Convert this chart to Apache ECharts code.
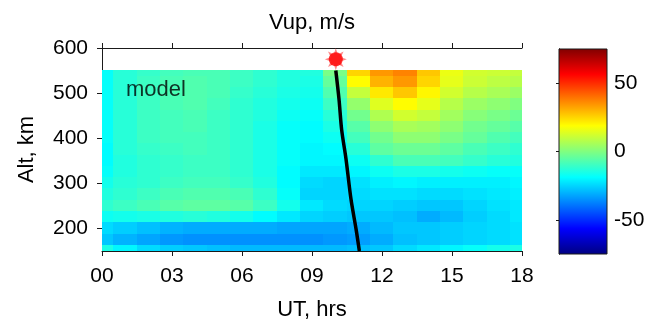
<!DOCTYPE html>
<html>
<head>
<meta charset="utf-8">
<script src="https://cdn.jsdelivr.net/npm/echarts@6/dist/echarts.min.js"></script>
<style>html,body{margin:0;padding:0;background:#fff;}#c{width:650px;height:326px;}</style>
</head>
<body>
<div id="c"></div>
<script>
// ---- data ----
const hours = [0,1,2,3,4,5,6,7,8,9,10,11,12,13,14,15,16,17,18];
const altitudes = [550,525,500,475,450,425,400,375,350,325,300,275,250,225,200,175,150];
const vup = [
  [-18,-13,-11,-9,-8,-8,-10,-12,-14,-14,-1,25,34,37,27,16,12,11,10],
  [-18,-13,-10,-8,-7,-8,-10,-12,-14,-15,-4,19,30,34,25,15,11,9,8],
  [-18,-13,-10,-8,-7,-8,-11,-13,-15,-16,-7,10,22,27,20,12,8,6,4],
  [-18,-13,-10,-8,-7,-9,-12,-14,-16,-17,-10,3,14,19,15,8,4,2,0],
  [-18,-13,-10,-9,-8,-10,-12,-14,-17,-18,-13,-2,7,12,10,5,1,-1,-3],
  [-18,-13,-10,-9,-8,-10,-12,-15,-18,-19,-15,-6,2,6,5,2,-2,-4,-6],
  [-18,-13,-10,-9,-9,-10,-12,-15,-18,-19,-17,-9,-2,2,2,-1,-4,-7,-9],
  [-19,-13,-11,-10,-9,-10,-12,-15,-18,-20,-19,-13,-5,-3,-3,-5,-8,-10,-12],
  [-19,-14,-12,-11,-10,-10,-12,-15,-18,-20,-20,-17,-12,-8,-8,-9,-11,-13,-14],
  [-18,-14,-12,-11,-10,-10,-12,-15,-19,-22,-22,-20,-17,-15,-15,-16,-17,-18,-18],
  [-16,-13,-12,-10,-9,-9,-11,-14,-19,-24,-25,-23,-21,-20,-21,-21,-21,-21,-20],
  [-14,-12,-10,-8,-7,-7,-8,-12,-18,-25,-25,-24,-23,-23,-24,-24,-23,-22,-21],
  [-12,-10,-8,-6,-5,-5,-6,-10,-16,-22,-24,-25,-25,-26,-27,-27,-25,-23,-22],
  [-17,-16,-15,-14,-13,-14,-16,-19,-22,-25,-26,-27,-27,-28,-31,-29,-26,-24,-22],
  [-24,-26,-28,-30,-31,-31,-31,-31,-32,-32,-32,-31,-29,-27,-27,-26,-25,-24,-23],
  [-27,-30,-32,-34,-35,-35,-35,-35,-35,-35,-34,-33,-31,-28,-27,-26,-25,-24,-23],
  [-15,-20,-24,-26,-27,-28,-29,-29,-29,-29,-29,-28,-27,-24,-22,-20,-18,-16,-15]
];
const trackUT = [10.02,10.16,10.27,10.46,10.67,10.89,11.03];
const trackAlt = [550,485,419,353,265,198,150];
const markerUT = [10.02];
const markerAlt = [575];
const xTicks = [0,3,6,9,12,15,18];
const yTicks = [200,300,400,500,600];
const cbTicks = [-50,0,50];
const cbRange = [-75,75];
const labelText = 'model';
const labelPos = [1.03, 507];

// ---- build ----
const jet = ['#000080','#0000ff','#0080ff','#00ffff','#80ff80','#ffff00','#ff8000','#ff0000','#800000'];
const heat = [];
altitudes.forEach((a,i)=>hours.forEach((h,j)=>heat.push([h,a,vup[i][j]])));
const cellW = 1, cellH = 25, topAlt = 550;
const FONT = 'Liberation Sans';
const axisCol = '#1a1a1a';

const chart = echarts.init(document.getElementById('c'), null, {renderer:'canvas'});
const burst = (function(){
  let p = [];
  const n = 8, R = 10, r = 5;
  for (let k=0;k<2*n;k++){
    const ang = Math.PI*k/n;
    const rad = (k%2===0)?R:r;
    p.push((k===0?'M':'L') + (rad*Math.cos(ang)).toFixed(2) + ' ' + (rad*Math.sin(ang)).toFixed(2));
  }
  return 'path://' + p.join(' ') + ' Z';
})();

const baseAxis = {
  axisLine:{show:true,lineStyle:{color:axisCol,width:1}},
  axisTick:{show:true,length:5,inside:false,lineStyle:{color:axisCol}},
  splitLine:{show:false},
  axisLabel:{color:'#000',fontFamily:FONT,fontSize:21}
};

chart.setOption({
  animation:false,
  backgroundColor:'#fff',
  grid:[
    {left:102,top:48,width:420,height:204},
    {left:559,top:49,width:48,height:205}
  ],
  xAxis:[
    Object.assign({}, baseAxis, {type:'value',gridIndex:0,min:0,max:18,interval:3,position:'bottom',
      axisLabel:Object.assign({}, baseAxis.axisLabel,{margin:15,formatter:v=>String(v).padStart(2,'0')}),
      name:'UT, hrs',nameLocation:'middle',nameGap:48,nameTextStyle:{color:'#000',fontFamily:FONT,fontSize:22}}),
    Object.assign({}, baseAxis, {type:'value',gridIndex:0,min:0,max:18,interval:3,position:'top',
      axisLabel:{show:false},
      name:'Vup, m/s',nameLocation:'middle',nameGap:14,nameTextStyle:{color:'#000',fontFamily:FONT,fontSize:22}}),
    {type:'value',gridIndex:1,min:0,max:1,show:false}
  ],
  yAxis:[
    Object.assign({}, baseAxis, {type:'value',gridIndex:0,min:150,max:600,position:'left',
      axisTick:Object.assign({}, baseAxis.axisTick,{customValues:yTicks}),
      axisLabel:Object.assign({}, baseAxis.axisLabel,{margin:14,customValues:yTicks}),
      name:'Alt, km',nameLocation:'middle',nameGap:64,nameRotate:90,nameTextStyle:{color:'#000',fontFamily:FONT,fontSize:22}}),
    Object.assign({}, baseAxis, {type:'value',gridIndex:0,min:150,max:600,position:'right',
      axisTick:Object.assign({}, baseAxis.axisTick,{customValues:yTicks}),
      axisLabel:{show:false}}),
    Object.assign({}, baseAxis, {type:'value',gridIndex:1,min:cbRange[0],max:cbRange[1],position:'right',
      axisTick:{show:true,length:3,inside:true,customValues:cbTicks,lineStyle:{color:axisCol}},
      axisLabel:Object.assign({}, baseAxis.axisLabel,{margin:7,customValues:cbTicks})}),
    Object.assign({}, baseAxis, {type:'value',gridIndex:1,min:cbRange[0],max:cbRange[1],position:'left',
      axisTick:{show:true,length:3,inside:true,customValues:cbTicks,lineStyle:{color:axisCol}},
      axisLabel:{show:false}})
  ],
  visualMap:{type:'continuous',show:false,min:cbRange[0],max:cbRange[1],dimension:2,seriesIndex:0,inRange:{color:jet}},
  series:[
    {
      type:'custom',xAxisIndex:0,yAxisIndex:0,data:heat,z:1,
      renderItem:function(params,api){
        const h = api.value(0), a = api.value(1);
        const p0 = api.coord([h - cellW/2, Math.min(a + cellH/2, topAlt)]);
        const p1 = api.coord([h + cellW/2, a - cellH/2]);
        const cs = params.coordSys;
        let x0 = Math.max(Math.floor(p0[0]), cs.x), x1 = Math.min(Math.ceil(p1[0]), cs.x+cs.width);
        let y0 = Math.max(Math.floor(p0[1]), cs.y), y1 = Math.min(Math.ceil(p1[1]), cs.y+cs.height);
        return {type:'rect',shape:{x:x0,y:y0,width:x1-x0,height:y1-y0},style:{fill:api.visual('color')}};
      }
    },
    {
      type:'line',xAxisIndex:0,yAxisIndex:0,data:trackUT.map((u,i)=>[u,trackAlt[i]]),
      showSymbol:false,symbol:'none',smooth:0.3,lineStyle:{color:'#000',width:3.5},z:5,silent:true
    },
    {
      type:'scatter',xAxisIndex:0,yAxisIndex:0,data:markerUT.map((u,i)=>[u,markerAlt[i]]),
      symbol:burst,symbolSize:22,itemStyle:{color:'#ff6a6a'},z:6,silent:true
    },
    {
      type:'scatter',xAxisIndex:0,yAxisIndex:0,data:markerUT.map((u,i)=>[u,markerAlt[i]]),
      symbol:'circle',symbolSize:14,itemStyle:{color:'#ff0000'},z:7,silent:true
    },
    {
      type:'scatter',xAxisIndex:0,yAxisIndex:0,data:[labelPos],symbolSize:0,z:8,silent:true,
      label:{show:true,position:'right',distance:0,formatter:labelText,color:'#000',fontFamily:FONT,fontSize:22,align:'left',verticalAlign:'middle'}
    },
    {
      type:'custom',xAxisIndex:2,yAxisIndex:2,data:[[0,cbRange[0]]],z:2,silent:true,
      renderItem:function(params,api){
        const p0 = api.coord([0,cbRange[1]]), p1 = api.coord([1,cbRange[0]]);
        const stops = jet.map((c,i)=>({offset:1 - i/(jet.length-1),color:c}));
        stops.reverse();
        return {type:'rect',shape:{x:p0[0],y:p0[1],width:p1[0]-p0[0],height:p1[1]-p0[1]},
          style:{fill:new echarts.graphic.LinearGradient(0,0,0,1,stops),stroke:axisCol,lineWidth:1}};
      }
    }
  ]
});
</script>
</body>
</html>
